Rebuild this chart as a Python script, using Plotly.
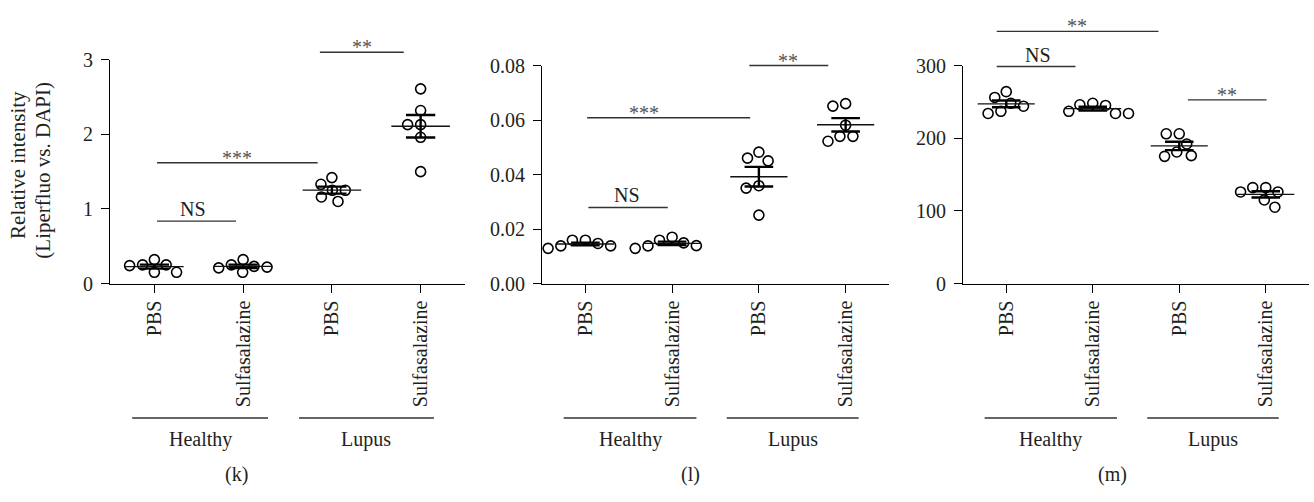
import numpy as np
import plotly.graph_objects as go

# ---------------------------------------------------------------- data
treatments = ["PBS", "Sulfasalazine", "PBS", "Sulfasalazine"]
conditions = ["Healthy", "Lupus"]
panel_letters = ["(k)", "(l)", "(m)"]

# (k) relative intensity, Liperfluo vs. DAPI
k_healthy_pbs = [0.24, 0.25, 0.25, 0.32, 0.15, 0.15]
k_healthy_ssz = [0.22, 0.25, 0.15, 0.23, 0.21, 0.32]
k_lupus_pbs = [1.42, 1.33, 1.25, 1.25, 1.10, 1.16]
k_lupus_ssz = [2.61, 2.32, 2.13, 2.13, 1.96, 1.50]

# (l)
l_healthy_pbs = [0.0138, 0.0159, 0.0129, 0.0147, 0.0138, 0.0159]
l_healthy_ssz = [0.0139, 0.0159, 0.0129, 0.0149, 0.0138, 0.0170]
l_lupus_pbs = [0.0482, 0.0450, 0.0460, 0.0359, 0.0350, 0.0251]
l_lupus_ssz = [0.0651, 0.0660, 0.0581, 0.0540, 0.0522, 0.0540]

# (m)
m_healthy_pbs = [264, 256, 248, 244, 234, 237]
m_healthy_ssz = [237, 246, 234, 245, 234, 248]
m_lupus_pbs = [206, 206, 192, 181, 175, 176]
m_lupus_ssz = [126, 132, 126, 132, 115, 105]

k_ticks = [0, 1, 2, 3]
k_ticktext = ["0", "1", "2", "3"]
l_ticks = [0, 0.02, 0.04, 0.06, 0.08]
l_ticktext = ["0.00", "0.02", "0.04", "0.06", "0.08"]
m_ticks = [0, 100, 200, 300]
m_ticktext = ["0", "100", "200", "300"]

# significance labels
k_sig = ["NS", "***", "**"]
l_sig = ["NS", "***", "**"]
m_sig = ["NS", "**", "**"]

# ---------------------------------------------------------------- layout spec
W, H = 1314, 502
FONT = "Times New Roman, Liberation Serif, DejaVu Serif, serif"
INK = "#231f20"
STAR = "#555555"

# bracket geometry: (x start, x end, level, label x) in axis units
k_brackets = [(0.03, 0.92, 0.837, 0.44), (0.03, 1.84, 1.62, 0.93), (1.865, 2.81, 3.10, 2.345)]
l_brackets = [(0.035, 0.95, 0.0279, 0.485), (0.02, 1.90, 0.0608, 0.68), (1.89, 2.80, 0.080, 2.34)]
m_brackets = [(-0.11, 0.80, 298.6, 0.37), (-0.11, 1.76, 347.0, 0.82), (2.10, 3.01, 252.7, 2.55)]

panels = [
    dict(groups=[k_healthy_pbs, k_healthy_ssz, k_lupus_pbs, k_lupus_ssz],
         ticks=k_ticks, ticktext=k_ticktext, ymax=3, sig=k_sig, brackets=k_brackets,
         px=(110, 465), top=51, letter_x=236),
    dict(groups=[l_healthy_pbs, l_healthy_ssz, l_lupus_pbs, l_lupus_ssz],
         ticks=l_ticks, ticktext=l_ticktext, ymax=0.08, sig=l_sig, brackets=l_brackets,
         px=(542, 889), top=57, letter_x=690),
    dict(groups=[m_healthy_pbs, m_healthy_ssz, m_lupus_pbs, m_lupus_ssz],
         ticks=m_ticks, ticktext=m_ticktext, ymax=300, sig=m_sig, brackets=m_brackets,
         px=(963, 1309), top=57, letter_x=1112),
]
BOTTOM = 285          # pixel row of the x axis
MARKER_D = 10         # circle diameter, px
GROUP_SPANS = [(-0.25, 1.28), (1.63, 3.15)]
GROUP_LINE_Y = 425.7
GROUP_LABEL_Y = 448
LETTER_Y = 485


def swarm(values, ppu_y, diam):
    """Horizontal pixel offsets so circles of a group do not overlap."""
    ys = np.asarray(values, float) * ppu_y
    order = np.argsort(-ys, kind="stable")
    placed, xs = [], np.zeros(len(ys))
    for i in order:
        cands = [0.0]
        for xj, yj in placed:
            dy = ys[i] - yj
            if abs(dy) < diam:
                dx = np.sqrt(diam ** 2 - dy ** 2)
                cands += [xj - dx, xj + dx]
        cands.sort(key=lambda c: (abs(c), c))
        for c in cands:
            if all((c - xj) ** 2 + (ys[i] - yj) ** 2 >= diam ** 2 - 1e-6 for xj, yj in placed):
                xs[i] = c
                break
        placed.append((xs[i], ys[i]))
    return xs


def px_x(p):
    return p / W


def px_y(p):
    return 1 - p / H


fig = go.Figure()
shapes, annotations = [], []

for n, p in enumerate(panels, start=1):
    xa = "x" if n == 1 else f"x{n}"
    ya = "y" if n == 1 else f"y{n}"
    x0px, x1px = p["px"]
    ppu_y = (BOTTOM - p["top"]) / p["ymax"]
    ppu_x = (x1px - x0px) / 4.0

    xs_all, ys_all = [], []
    line_x, line_y = [], []
    err_x, err_y = [], []
    for c, vals in enumerate(p["groups"]):
        off = swarm(vals, ppu_y, MARKER_D * 1.3) / ppu_x
        xs_all += list(c + off)
        ys_all += list(vals)
        mean = float(np.mean(vals))
        sem = float(np.std(vals, ddof=1) / np.sqrt(len(vals)))
        line_x += [c - 0.33, c + 0.33, None]
        line_y += [mean, mean, None]
        err_x += [c - 0.165, c + 0.165, None, c, c, None, c - 0.165, c + 0.165, None]
        err_y += [mean + sem, mean + sem, None, mean + sem, mean - sem, None,
                  mean - sem, mean - sem, None]

    fig.add_trace(go.Scatter(
        x=xs_all, y=ys_all, mode="markers", xaxis=xa, yaxis=ya, showlegend=False,
        marker=dict(symbol="circle", size=MARKER_D, color="white",
                    line=dict(color="black", width=1.6)),
        hoverinfo="y"))
    fig.add_trace(go.Scatter(
        x=line_x, y=line_y, mode="lines", xaxis=xa, yaxis=ya, showlegend=False,
        line=dict(color="#111111", width=1.4), hoverinfo="skip"))
    fig.add_trace(go.Scatter(
        x=err_x, y=err_y, mode="lines", xaxis=xa, yaxis=ya, showlegend=False,
        line=dict(color="black", width=2.4), hoverinfo="skip"))

    fig.update_layout({
        ("xaxis" if n == 1 else f"xaxis{n}"): dict(
            domain=[px_x(x0px), px_x(x1px)], range=[-0.5, 3.5], anchor=ya,
            tickmode="array", tickvals=[0, 1, 2, 3], ticktext=treatments,
            tickangle=-90, ticks="outside", ticklen=8, tickwidth=1.2, tickcolor="black",
            showline=True, linecolor="black", linewidth=1.2, showgrid=False,
            zeroline=False, tickfont=dict(family=FONT, size=20, color=INK),
            fixedrange=True),
        ("yaxis" if n == 1 else f"yaxis{n}"): dict(
            domain=[px_y(BOTTOM), px_y(p["top"])], range=[0, p["ymax"]], anchor=xa,
            tickmode="array", tickvals=p["ticks"], ticktext=p["ticktext"],
            ticks="outside", ticklen=8, tickwidth=1.2, tickcolor="black",
            showline=True, linecolor="black", linewidth=1.2, showgrid=False,
            zeroline=False, tickfont=dict(family=FONT, size=20, color=INK),
            ticklabelstandoff=4, fixedrange=True),
    })

    # significance brackets
    for (bx0, bx1, lvl, lx), lab in zip(p["brackets"], p["sig"]):
        shapes.append(dict(type="line", xref=xa, yref=f"{ya} domain",
                           x0=bx0, x1=bx1, y0=lvl / p["ymax"], y1=lvl / p["ymax"],
                           line=dict(color="#333333", width=1.4)))
        is_star = "*" in lab
        annotations.append(dict(
            x=lx, y=lvl / p["ymax"], xref=xa, yref=f"{ya} domain", text=lab,
            showarrow=False, xanchor="center", yanchor="middle",
            yshift=5 if is_star else 12,
            font=dict(family=FONT, size=20, color=STAR if is_star else INK)))

    # condition grouping lines and labels
    for (g0, g1), cond in zip(GROUP_SPANS, conditions):
        shapes.append(dict(type="line", xref=xa, yref="paper", x0=g0, x1=g1,
                           y0=px_y(GROUP_LINE_Y), y1=px_y(GROUP_LINE_Y),
                           line=dict(color="#333333", width=1.4)))
        annotations.append(dict(
            x=(g0 + g1) / 2, y=px_y(GROUP_LABEL_Y), xref=xa, yref="paper", text=cond,
            showarrow=False, xanchor="center", yanchor="middle",
            font=dict(family=FONT, size=20, color=INK)))

    annotations.append(dict(
        x=px_x(p["letter_x"]), y=px_y(LETTER_Y), xref="paper", yref="paper",
        text=panel_letters[n - 1], showarrow=False, xanchor="center", yanchor="middle",
        font=dict(family=FONT, size=20, color=INK)))

# y-axis title of the first panel, two rotated lines
for txt, cx, cy in [("Relative intensity", 18, 161), ("(Liperfluo vs. DAPI)", 43, 167)]:
    annotations.append(dict(
        x=px_x(cx), y=px_y(cy), xref="paper", yref="paper", text=txt, textangle=-90,
        showarrow=False, xanchor="center", yanchor="middle",
        font=dict(family=FONT, size=21, color=INK)))

fig.update_layout(
    width=W, height=H, margin=dict(l=0, r=0, t=0, b=0),
    paper_bgcolor="white", plot_bgcolor="white",
    shapes=shapes, annotations=annotations, showlegend=False,
)

fig.write_html("out.html")
